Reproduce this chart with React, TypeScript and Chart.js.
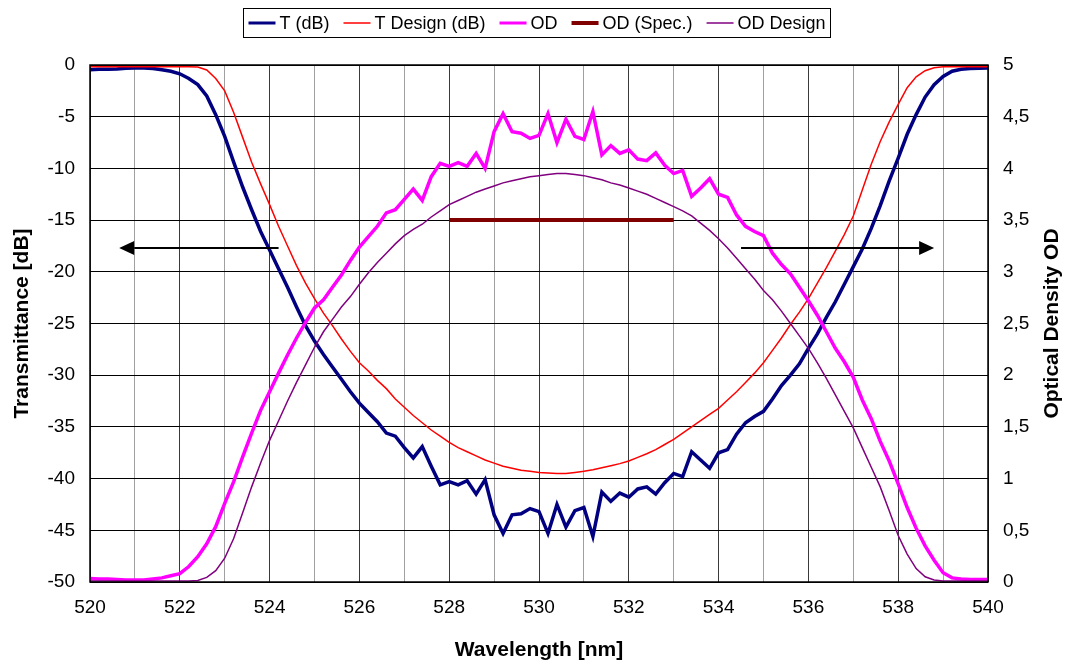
import React, { useEffect, useRef } from "react";
import { Chart, registerables } from "chart.js";
Chart.register(...registerables);

// Wavelength grid (nm), 0.2 nm sampling from 520 to 540
const WAVELENGTH: number[] = Array.from({ length: 101 }, (_, i) => Math.round((520 + i * 0.2) * 10) / 10);

// Measured transmittance (dB)
const T_DB = [
  -0.45, -0.42, -0.4, -0.38, -0.32, -0.28, -0.3, -0.35, -0.45, -0.6,
  -0.85, -1.3, -1.9, -3.0, -4.8, -6.9, -9.4, -11.8, -14.0, -16.1,
  -17.9, -19.7, -21.5, -23.4, -25.2, -26.7, -28.0, -29.2, -30.4, -31.6,
  -32.7, -33.6, -34.5, -35.6, -35.9, -37.0, -38.0, -36.9, -38.8, -40.6,
  -40.3, -40.6, -40.2, -41.5, -40.1, -43.5, -45.3, -43.5, -43.4, -42.9,
  -43.2, -45.3, -42.5, -44.7, -43.1, -42.8, -45.6, -41.3, -42.2, -41.4,
  -41.8, -41.0, -40.8, -41.5, -40.4, -39.5, -39.8, -37.4, -38.2, -39.0,
  -37.5, -37.2, -35.7, -34.6, -34.0, -33.5, -32.3, -31.0, -30.0, -28.9,
  -27.4, -26.0, -24.4, -22.9, -21.2, -19.5, -17.8, -15.8, -13.6, -11.2,
  -9.0, -6.7, -4.8, -3.1, -1.9, -1.1, -0.6, -0.42, -0.35, -0.32,
  -0.3,
];

// Design transmittance (dB)
const T_DESIGN_DB = [
  -0.16, -0.16, -0.16, -0.16, -0.16, -0.16, -0.16, -0.16, -0.16, -0.16,
  -0.16, -0.16, -0.2, -0.48, -1.3, -2.5, -4.6, -7.0, -9.4, -11.5,
  -13.5, -15.6, -17.5, -19.4, -21.1, -22.6, -24.0, -25.2, -26.5, -27.7,
  -28.8, -29.6, -30.5, -31.3, -32.3, -33.1, -33.9, -34.6, -35.3, -35.9,
  -36.5, -37.0, -37.4, -37.8, -38.2, -38.5, -38.8, -39.0, -39.2, -39.3,
  -39.4, -39.45, -39.5, -39.5, -39.4, -39.3, -39.15, -38.95, -38.75, -38.55,
  -38.3, -37.95, -37.6, -37.2, -36.7, -36.2, -35.6, -35.0, -34.4, -33.8,
  -33.2, -32.4, -31.6, -30.7, -29.8, -28.8, -27.6, -26.4, -25.1, -23.9,
  -22.6, -21.1, -19.6, -18.0, -16.4, -14.6, -12.1, -9.6, -7.4, -5.5,
  -3.8, -2.2, -1.15, -0.55, -0.26, -0.18, -0.16, -0.16, -0.16, -0.16,
  -0.16,
];

// Measured optical density
const OD = [
  0.035, 0.03, 0.03, 0.025, 0.02, 0.02, 0.02, 0.03, 0.04, 0.06,
  0.08, 0.15, 0.245, 0.37, 0.535, 0.76, 0.97, 1.21, 1.44, 1.66,
  1.84, 2.02, 2.195, 2.36, 2.51, 2.65, 2.73, 2.85, 2.97, 3.11,
  3.24, 3.34, 3.44, 3.57, 3.6, 3.7, 3.8, 3.69, 3.92, 4.05,
  4.02, 4.055, 4.02, 4.145, 4.0, 4.355, 4.53, 4.355, 4.34, 4.29,
  4.32, 4.53, 4.25, 4.475, 4.31, 4.28, 4.55, 4.13, 4.22, 4.145,
  4.18, 4.09, 4.075, 4.15, 4.03, 3.95, 3.98, 3.73, 3.81, 3.9,
  3.75, 3.72, 3.55, 3.44, 3.39, 3.35, 3.18, 3.07, 2.98, 2.85,
  2.72, 2.58, 2.42, 2.26, 2.13, 1.98, 1.76, 1.58, 1.36, 1.17,
  0.95, 0.72, 0.52, 0.35, 0.21, 0.09, 0.04, 0.03, 0.025, 0.025,
  0.025,
];

// Design optical density
const OD_DESIGN = [
  0.01, 0.01, 0.01, 0.01, 0.01, 0.01, 0.01, 0.01, 0.01, 0.01,
  0.01, 0.01, 0.015, 0.045, 0.11, 0.23, 0.42, 0.67, 0.92, 1.15,
  1.37, 1.56, 1.75, 1.93, 2.1, 2.27, 2.42, 2.54, 2.66, 2.76,
  2.88, 2.99, 3.09, 3.18, 3.27, 3.35, 3.41, 3.46, 3.53, 3.59,
  3.65, 3.69, 3.73, 3.77, 3.8, 3.83, 3.86, 3.88, 3.9, 3.92,
  3.93, 3.94, 3.95, 3.95, 3.94, 3.93, 3.91, 3.89, 3.86, 3.84,
  3.81, 3.78, 3.75, 3.71, 3.67, 3.63, 3.59, 3.54, 3.47, 3.4,
  3.32, 3.23, 3.13, 3.03, 2.93, 2.82, 2.73, 2.62, 2.5, 2.38,
  2.26, 2.12, 1.97, 1.81, 1.65, 1.49, 1.3, 1.11, 0.92, 0.69,
  0.45, 0.27, 0.13, 0.05, 0.02, 0.01, 0.01, 0.01, 0.01, 0.01,
  0.01,
];

// OD specification
const SPEC_WL = [528, 533];
const SPEC_OD = [3.5, 3.5];

// Axis ranges
const X_MIN = 520;
const X_MAX = 540;
const Y_MIN = -50;
const Y_MAX = 0;
const Y1_MIN = 0;
const Y1_MAX = 5;

// Arrow annotations (wavelength from -> to, at dB level)
const ARROW_LEFT = { from: 524.2, to: 520.65, level: -17.7 };
const ARROW_RIGHT = { from: 534.5, to: 538.8, level: -17.7 };

const FONT = '"Liberation Sans", Arial, sans-serif';

const LEGEND_ITEMS = [
  { label: "T (dB)", color: "#000080", width: 3 },
  { label: "T Design (dB)", color: "#FF0000", width: 1.5 },
  { label: "OD", color: "#FF00FF", width: 3 },
  { label: "OD (Spec.)", color: "#800000", width: 4 },
  { label: "OD Design", color: "#800080", width: 1.5 },
];

function pts(xs: number[], ys: number[]) {
  return xs.map((x, i) => ({ x, y: ys[i] }));
}

const overlayPlugin = {
  id: "overlay",
  afterDraw(chart: any) {
    const ctx = chart.ctx as CanvasRenderingContext2D;
    const { left, right, top, bottom } = chart.chartArea;
    const xs = chart.scales.x;
    const ys = chart.scales.y;
    ctx.save();
    // plot border
    ctx.strokeStyle = "#000";
    ctx.lineWidth = 1.5;
    ctx.strokeRect(left, top, right - left, bottom - top);

    // arrows
    const drawArrow = (a: { from: number; to: number; level: number }) => {
      const x0 = xs.getPixelForValue(a.from);
      const x1 = xs.getPixelForValue(a.to);
      const y = ys.getPixelForValue(a.level);
      const dir = Math.sign(x1 - x0);
      const headLen = 15;
      const headHalf = 7;
      ctx.strokeStyle = "#000";
      ctx.lineWidth = 2;
      ctx.beginPath();
      ctx.moveTo(x0, y);
      ctx.lineTo(x1 - dir * headLen, y);
      ctx.stroke();
      ctx.fillStyle = "#000";
      ctx.beginPath();
      ctx.moveTo(x1, y);
      ctx.lineTo(x1 - dir * headLen, y - headHalf);
      ctx.lineTo(x1 - dir * headLen, y + headHalf);
      ctx.closePath();
      ctx.fill();
    };
    drawArrow(ARROW_LEFT);
    drawArrow(ARROW_RIGHT);

    // axis titles
    ctx.fillStyle = "#000";
    ctx.font = `bold 21px ${FONT}`;
    ctx.textAlign = "center";
    ctx.textBaseline = "middle";
    ctx.fillText("Wavelength [nm]", (left + right) / 2, 650);
    ctx.save();
    ctx.translate(22, (top + bottom) / 2);
    ctx.rotate(-Math.PI / 2);
    ctx.fillText("Transmittance [dB]", 0, 0);
    ctx.restore();
    ctx.save();
    ctx.translate(1052, (top + bottom) / 2);
    ctx.rotate(-Math.PI / 2);
    ctx.fillText("Optical Density OD", 0, 0);
    ctx.restore();

    // legend
    ctx.font = `18px ${FONT}`;
    ctx.textAlign = "left";
    const sample = 27;
    const gapText = 4;
    const gapItem = 14;
    const widths = LEGEND_ITEMS.map((it) => ctx.measureText(it.label).width);
    let total = 0;
    widths.forEach((w, i) => {
      total += sample + gapText + w + (i < widths.length - 1 ? gapItem : 0);
    });
    const padX = 5;
    const cx = 536.5;
    const boxL = Math.round(cx - total / 2 - padX) + 0.5;
    const boxW = Math.round(total + 2 * padX);
    const boxT = 8.5;
    const boxH = 29;
    ctx.fillStyle = "#fff";
    ctx.fillRect(boxL, boxT, boxW, boxH);
    ctx.strokeStyle = "#000";
    ctx.lineWidth = 1;
    ctx.strokeRect(boxL, boxT, boxW, boxH);
    let x = boxL + padX;
    const ly = boxT + boxH / 2;
    LEGEND_ITEMS.forEach((it, i) => {
      ctx.strokeStyle = it.color;
      ctx.lineWidth = it.width;
      ctx.beginPath();
      ctx.moveTo(x, ly);
      ctx.lineTo(x + sample, ly);
      ctx.stroke();
      ctx.fillStyle = "#000";
      ctx.fillText(it.label, x + sample + gapText, ly + 1);
      x += sample + gapText + widths[i] + gapItem;
    });
    ctx.restore();
  },
};

export default function App() {
  const ref = useRef<HTMLCanvasElement>(null);
  useEffect(() => {
    if (!ref.current) return;
    const tickFont = { family: FONT, size: 19 };
    const chart = new Chart(ref.current, {
      type: "line",
      data: {
        datasets: [
          {
            label: "T (dB)",
            data: pts(WAVELENGTH, T_DB),
            borderColor: "#000080",
            borderWidth: 3.5,
            yAxisID: "y",
            pointRadius: 0,
            order: 5,
          },
          {
            label: "T Design (dB)",
            data: pts(WAVELENGTH, T_DESIGN_DB),
            borderColor: "#FF0000",
            borderWidth: 1.5,
            yAxisID: "y",
            pointRadius: 0,
            order: 4,
          },
          {
            label: "OD",
            data: pts(WAVELENGTH, OD),
            borderColor: "#FF00FF",
            borderWidth: 3.5,
            yAxisID: "y1",
            pointRadius: 0,
            order: 3,
          },
          {
            label: "OD (Spec.)",
            data: pts(SPEC_WL, SPEC_OD),
            borderColor: "#800000",
            borderWidth: 4,
            yAxisID: "y1",
            pointRadius: 0,
            order: 2,
          },
          {
            label: "OD Design",
            data: pts(WAVELENGTH, OD_DESIGN),
            borderColor: "#800080",
            borderWidth: 1.5,
            yAxisID: "y1",
            pointRadius: 0,
            order: 1,
          },
        ],
      },
      options: {
        animation: false,
        responsive: false,
        layout: { padding: { top: 65, left: 0, right: 0, bottom: 0 } },
        plugins: { legend: { display: false }, tooltip: { enabled: false } },
        elements: { line: { tension: 0 } },
        scales: {
          x: {
            type: "linear",
            min: X_MIN,
            max: X_MAX,
            afterFit: (s: any) => {
              s.height = 82;
            },
            ticks: {
              stepSize: 1,
              autoSkip: false,
              maxRotation: 0,
              padding: 14,
              color: "#000",
              font: tickFont,
              callback: (v: any) => (Number(v) % 2 === 0 ? String(v) : ""),
            },
            grid: {
              drawTicks: false,
              lineWidth: 1,
              color: (c: any) => (c.tick && Number(c.tick.value) % 2 === 0 ? "#3a3a3a" : "#a0a0a0"),
            },
            border: { display: false },
          },
          y: {
            position: "left",
            min: Y_MIN,
            max: Y_MAX,
            afterFit: (s: any) => {
              s.width = 90;
            },
            ticks: { stepSize: 5, padding: 15, color: "#000", font: tickFont },
            grid: { drawTicks: false, color: "#000", lineWidth: 1 },
            border: { display: false },
          },
          y1: {
            position: "right",
            min: Y1_MIN,
            max: Y1_MAX,
            afterFit: (s: any) => {
              s.width = 78;
            },
            ticks: {
              stepSize: 0.5,
              padding: 15,
              color: "#000",
              font: tickFont,
              callback: (v: any) => String(v).replace(".", ","),
            },
            grid: { display: false, drawTicks: false },
            border: { display: false },
          },
        },
      },
      plugins: [overlayPlugin],
    });
    return () => chart.destroy();
  }, []);
  return (
    <div style={{ position: "absolute", left: 0, top: 0, width: 1066, height: 664, background: "#fff" }}>
      <canvas ref={ref} width={1066} height={664} style={{ display: "block" }} />
    </div>
  );
}
